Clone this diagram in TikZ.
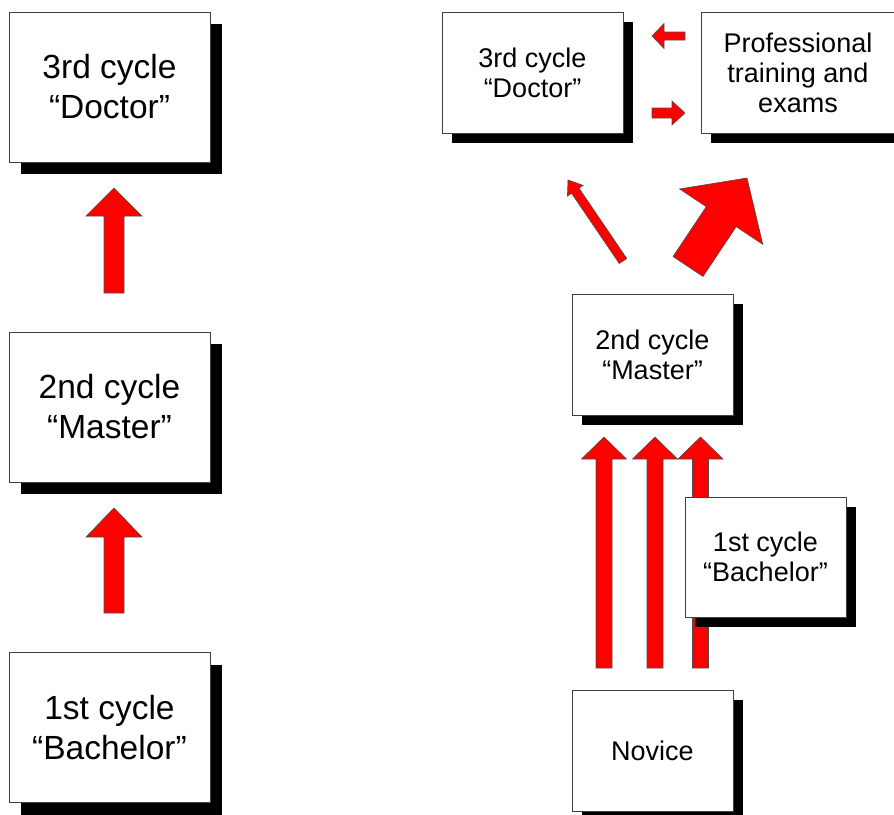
\documentclass[tikz,border=0pt]{standalone}
\usepackage{fontspec}
\setmainfont{Liberation Sans}
\usetikzlibrary{positioning}
\usetikzlibrary{calc}
\usetikzlibrary{shadows}
\usetikzlibrary{backgrounds}

\tikzset{
  cyclebox/.style={draw=black!75, line width=0.8pt, fill=white, align=center, inner sep=0pt},
  bigbox/.style={cyclebox, minimum width=201pt, minimum height=150pt,
    font=\fontsize{33.5}{40}\selectfont,
    drop shadow={shadow xshift=12pt, shadow yshift=-12pt, fill=black, opacity=1}},
  smallbox/.style={cyclebox, minimum height=121pt,
    font=\fontsize{27}{30}\selectfont,
    drop shadow={shadow xshift=10pt, shadow yshift=-10pt, fill=black, opacity=1}},
  blockarr/.style={fill=red, draw=black!70, line width=0.6pt, line join=miter}
}

% block arrow: tail, tip, shaft half width, head half width, head length
\newcommand{\blockarrow}[5]{%
  \coordinate (ba-base) at ($(#2)!#5!(#1)$);
  \filldraw[blockarr] ($(#1)!#3!90:(#2)$) -- ($(ba-base)!#3!90:(#2)$)
    -- ($(ba-base)!#4!90:(#2)$) -- (#2) -- ($(ba-base)!#4!-90:(#2)$)
    -- ($(ba-base)!#3!-90:(#2)$) -- ($(#1)!#3!-90:(#2)$) -- cycle;}

\begin{document}
\begin{tikzpicture}[x=1pt, y=-1pt, node distance=1cm, on grid]
  \useasboundingbox (0,0) rectangle (894,814);

  % left: one cycle after the other
  \node[bigbox] (docL) at (109.5,87) {3rd cycle\\“Doctor”};
  \node[bigbox] (masL) [below=320pt of docL] {2nd cycle\\“Master”};
  \node[bigbox] (bacL) [below=320.5pt of masL] {1st cycle\\“Bachelor”};

  % right
  \node[smallbox, minimum width=181pt] (docR) at (532.5,72.5) {3rd cycle\\“Doctor”};
  \node[smallbox, minimum width=194pt] (prof) [right=265.5pt of docR] {Professional\\training and\\exams};
  \node[smallbox, minimum width=161pt] (masR) [below=282pt of docR, xshift=120pt] {2nd cycle\\“Master”};
  \node[smallbox, minimum width=161pt, minimum height=120pt] (bacR) [below=202.5pt of masR, xshift=113pt] {1st cycle\\“Bachelor”};
  \node[smallbox, minimum width=161pt] (nov) [below=396pt of masR] {Novice};

  \begin{pgfonlayer}{background}
    \coordinate (upL1t) at (114,293);
    \coordinate (upL1h) at (114,188);
    \coordinate (upL2t) at (114,613);
    \coordinate (upL2h) at (114,508);
    \blockarrow{upL1t}{upL1h}{10pt}{28pt}{28pt}
    \blockarrow{upL2t}{upL2h}{10pt}{28pt}{29pt}

    \foreach \x/\n in {604/1,655/2,700.5/3} {
      \coordinate (upR\n t) at (\x,668);
      \coordinate (upR\n h) at (\x,437);
      \blockarrow{upR\n t}{upR\n h}{8pt}{22.5pt}{22pt}
    }

    \coordinate (backt) at (685,36);
    \coordinate (backh) at (652,36);
    \coordinate (fwdt) at (652,113);
    \coordinate (fwdh) at (685,113);
    \blockarrow{backt}{backh}{4pt}{12.5pt}{12pt}
    \blockarrow{fwdt}{fwdh}{5pt}{12pt}{13pt}

    \coordinate (todoct) at (623,261);
    \coordinate (todoch) at (568,180);
    \coordinate (toproft) at (688,266.5);
    \coordinate (toprofh) at (747,178);
    \blockarrow{todoct}{todoch}{4.5pt}{9.5pt}{13pt}
    \blockarrow{toproft}{toprofh}{18pt}{50pt}{46.5pt}
  \end{pgfonlayer}
\end{tikzpicture}
\end{document}
